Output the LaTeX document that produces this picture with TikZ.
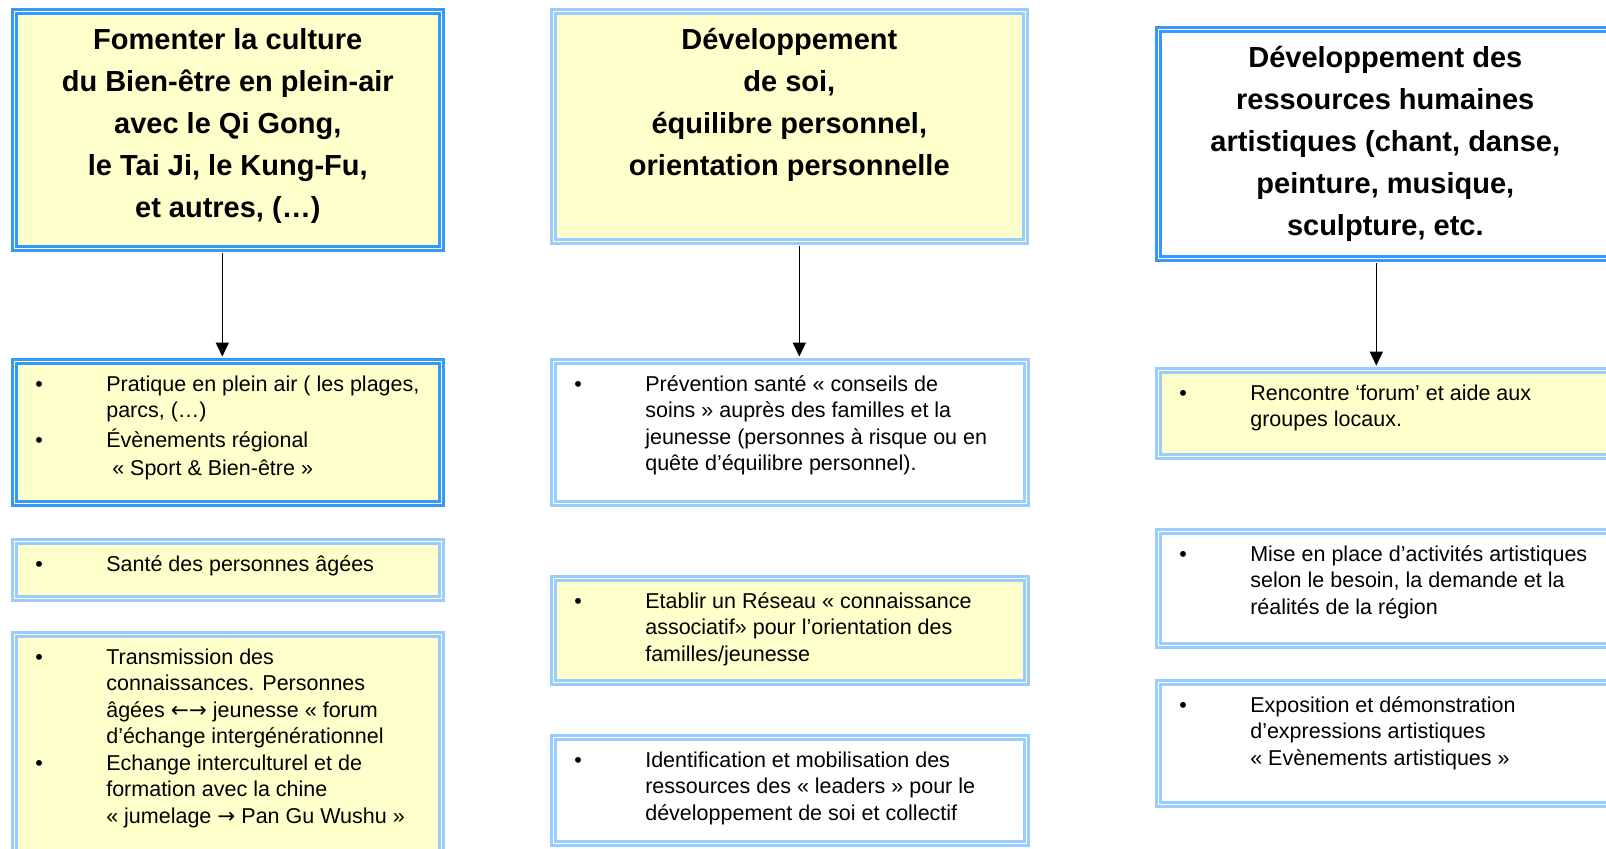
\documentclass[tikz,border=0pt]{standalone}
\usepackage{fontspec}
\setmainfont{Liberation Sans}
\newfontfamily\fleches{DejaVu Sans}
\usetikzlibrary{arrows.meta}
\definecolor{bleufonce}{HTML}{3399FF}
\definecolor{bleuclair}{HTML}{99CCFF}
\definecolor{jaune}{HTML}{FFFFCC}
\newcommand{\titre}{\fontsize{14.5pt}{21pt}\selectfont\bfseries}
\newcommand{\corps}{\fontsize{10.75pt}{13.25pt}\selectfont}
\newcommand{\puce}{\hspace*{10.5pt}\makebox[35.5pt][l]{\textbullet}}
\newcommand{\suite}{\hspace*{46pt}}
\newcommand{\haut}[1]{\rule{0pt}{#1}}
\begin{document}
\begin{tikzpicture}[x=0.5pt, y=-0.5pt,
        cadre/.style = {anchor=north west, inner sep=0pt, line width=1.3pt, double distance=0.8pt},
        fonce/.style = {cadre, draw=bleufonce},
        clair/.style = {cadre, draw=bleuclair},
        fleche/.style = {line width=0.75pt, -{Triangle[length=7pt, width=6.5pt]}, shorten <=1.7pt, shorten >=1.7pt}]
        \useasboundingbox (0,0) rectangle (1606,848);
        % titres
        \node[style = fonce, fill = jaune, double = jaune] (titre1) at (13,10) {\parbox[c][118.5pt][t]{213.5pt}{\centering\titre\haut{19pt}Fomenter la culture\\ du Bien-être en plein-air\\ avec le Qi Gong,\\ le Tai Ji, le Kung-Fu,\\ et autres, (…)}};
        \node[style = clair, fill = jaune, double = jaune] (titre2) at (552,10) {\parbox[c][115pt][t]{236pt}{\centering\titre\haut{19pt}Développement\\ de soi,\\ équilibre personnel,\\ orientation personnelle}};
        \node[style = fonce, fill = white, double = white] (titre3) at (1157,28) {\parbox[c][114.5pt][t]{227pt}{\centering\titre\haut{19pt}Développement des\\ ressources humaines\\ artistiques (chant, danse,\\ peinture, musique,\\ sculpture, etc.}};
        % colonne 1
        \node[style = fonce, fill = jaune, double = jaune] (plein) at (13,360) {\parbox[c][71pt][t]{213.5pt}{\corps\haut{15pt}\puce Pratique en plein air ( les plages,\\ \suite parcs, (…)\\[1.5pt] \puce Évènements régional\\[1pt] \suite\ « Sport \& Bien-être »}};
        \node[style = clair, fill = jaune, double = jaune] (sante) at (13,540) {\parbox[c][28.5pt][t]{213.5pt}{\corps\haut{15pt}\puce Santé des personnes âgées}};
        \node[style = clair, fill = jaune, double = jaune] (transmission) at (13,633) {\parbox[c][112pt][t]{213.5pt}{\corps\haut{15pt}\puce Transmission des\\ \suite connaissances. Personnes\\ \suite âgées {\fleches ←→} jeunesse « forum\\ \suite d’échange intergénérationnel\\ \puce Echange interculturel et de\\ \suite formation avec la chine\\ \suite « jumelage {\fleches →} Pan Gu Wushu »}};
        % colonne 2
        \node[style = clair, fill = white, double = white] (prevention) at (552,360) {\parbox[c][71pt][t]{236.5pt}{\corps\haut{15pt}\puce Prévention santé « conseils de\\ \suite soins » auprès des familles et la\\ \suite jeunesse (personnes à risque ou en\\ \suite quête d’équilibre personnel).}};
        \node[style = clair, fill = jaune, double = jaune] (reseau) at (552,577) {\parbox[c][52pt][t]{236.5pt}{\corps\haut{15pt}\puce Etablir un Réseau « connaissance\\ \suite associatif» pour l’orientation des\\ \suite familles/jeunesse}};
        \node[style = clair, fill = white, double = white] (leaders) at (552,736) {\parbox[c][53pt][t]{236.5pt}{\corps\haut{15pt}\puce Identification et mobilisation des\\ \suite ressources des « leaders » pour le\\ \suite développement de soi et collectif}};
        % colonne 3
        \node[style = clair, fill = jaune, double = jaune] (forum) at (1157,369) {\parbox[c][43pt][t]{227pt}{\corps\haut{15pt}\puce Rencontre ‘forum’ et aide aux\\ \suite groupes locaux.}};
        \node[style = clair, fill = white, double = white] (activites) at (1157,530) {\parbox[c][57pt][t]{227pt}{\corps\haut{15pt}\puce Mise en place d’activités artistiques\\ \suite selon le besoin, la demande et la\\ \suite réalités de la région}};
        \node[style = clair, fill = white, double = white] (exposition) at (1157,681) {\parbox[c][61pt][t]{227pt}{\corps\haut{15pt}\puce Exposition et démonstration\\ \suite d’expressions artistiques\\ \suite « Evènements artistiques »}};
        % fleches
        \draw[style = fleche] ([xshift=-2.75pt]titre1.south) -- ([xshift=-2.75pt]titre1.south |- plein.north);
        \draw[style = fleche] ([xshift=5pt]titre2.south) -- ([xshift=5pt]titre2.south |- prevention.north);
        \draw[style = fleche] ([xshift=-4.5pt]titre3.south) -- ([xshift=-4.5pt]titre3.south |- forum.north);
    \end{tikzpicture}
\end{document}
